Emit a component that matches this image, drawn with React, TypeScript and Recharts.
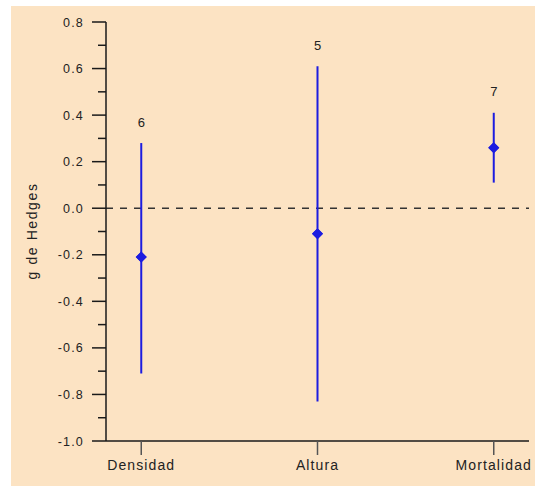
import {
  ComposedChart,
  ErrorBar,
  LabelList,
  ReferenceLine,
  Scatter,
  XAxis,
  YAxis,
} from 'recharts';

// categorías y valores (g de Hedges, IC 95%)
const categories = ['Densidad', 'Altura', 'Mortalidad'];
const means = [-0.21, -0.11, 0.26];
const lowers = [-0.71, -0.83, 0.11];
const uppers = [0.28, 0.61, 0.41];
const counts = [6, 5, 7];
const yTicks = [-1.0, -0.9, -0.8, -0.7, -0.6, -0.5, -0.4, -0.3, -0.2, -0.1, 0, 0.1, 0.2, 0.3, 0.4, 0.5, 0.6, 0.7, 0.8];

const BLUE = '#1c1ce0';
const AXIS = '#1a1a1a';
const FONT = '"Liberation Sans", Arial, sans-serif';

const data = categories.map((name, i) => ({
  x: i + 1,
  name,
  mean: means[i],
  err: [means[i] - lowers[i], uppers[i] - means[i]],
  upper: uppers[i],
  n: counts[i],
}));

function Diamond(props: any) {
  const { cx, cy } = props;
  if (cx == null || cy == null) return null;
  const r = 5.5;
  return (
    <path
      d={`M${cx},${cy - r} L${cx + r},${cy} L${cx},${cy + r} L${cx - r},${cy} Z`}
      fill={BLUE}
    />
  );
}

function YTick(props: any) {
  const { x, y, payload } = props;
  const v = Math.round(payload.value * 10);
  const major = v % 2 === 0;
  return (
    <g>
      <line x1={x - (major ? 14 : 8)} x2={x} y1={y} y2={y} stroke={AXIS} strokeWidth={1.5} />
      {major && (
        <text
          x={x - 22}
          y={y}
          dy={4.5}
          textAnchor="end"
          fontSize={12.5}
          letterSpacing={1.2}
          fill="#222"
          fontFamily={FONT}
        >
          {(v / 10).toFixed(1)}
        </text>
      )}
    </g>
  );
}

export default function App() {
  return (
    <div
      style={{
        position: 'absolute',
        left: 11,
        top: 6,
        width: 524,
        height: 480,
        background: '#fce3c3',
      }}
    >
      <ComposedChart
        width={524}
        height={480}
        data={data}
        margin={{ top: 16, right: 6, bottom: 0, left: 0 }}
      >
        <XAxis
          dataKey="x"
          type="number"
          domain={[0.8, 3.2]}
          ticks={[1, 2, 3]}
          tickFormatter={(v: number) => categories[v - 1]}
          height={45}
          tickSize={14}
          tickMargin={5}
          stroke={AXIS}
          strokeWidth={1.5}
          tick={{ fill: '#222', fontSize: 14, letterSpacing: 1.1, fontFamily: FONT }}
          tickLine={{ stroke: '#555', strokeWidth: 1.5 }}
          allowDataOverflow
        />
        <YAxis
          type="number"
          domain={[-1, 0.8]}
          ticks={yTicks}
          interval={0}
          width={95}
          tickSize={0}
          tickMargin={0}
          tickLine={false}
          tick={<YTick />}
          stroke={AXIS}
          strokeWidth={1.5}
          label={{
            value: 'g de Hedges',
            angle: -90,
            position: 'insideLeft',
            dx: 16,
            dy: 48,
            style: { fill: '#222', fontSize: 14, letterSpacing: 1.6, fontFamily: FONT },
          }}
        />
        <ReferenceLine y={0} stroke="#333" strokeWidth={1.5} strokeDasharray="7 7" />
        <Scatter dataKey="mean" shape={<Diamond />} isAnimationActive={false}>
          <ErrorBar dataKey="err" direction="y" width={0} stroke={BLUE} strokeWidth={2} />
        </Scatter>
        <Scatter dataKey="upper" shape={() => <g />} isAnimationActive={false}>
          <LabelList
            dataKey="n"
            position="top"
            offset={12}
            style={{ fill: '#222', fontSize: 13, fontFamily: FONT }}
          />
        </Scatter>
        <Scatter dataKey="mean" shape={<Diamond />} isAnimationActive={false} />
      </ComposedChart>
    </div>
  );
}
